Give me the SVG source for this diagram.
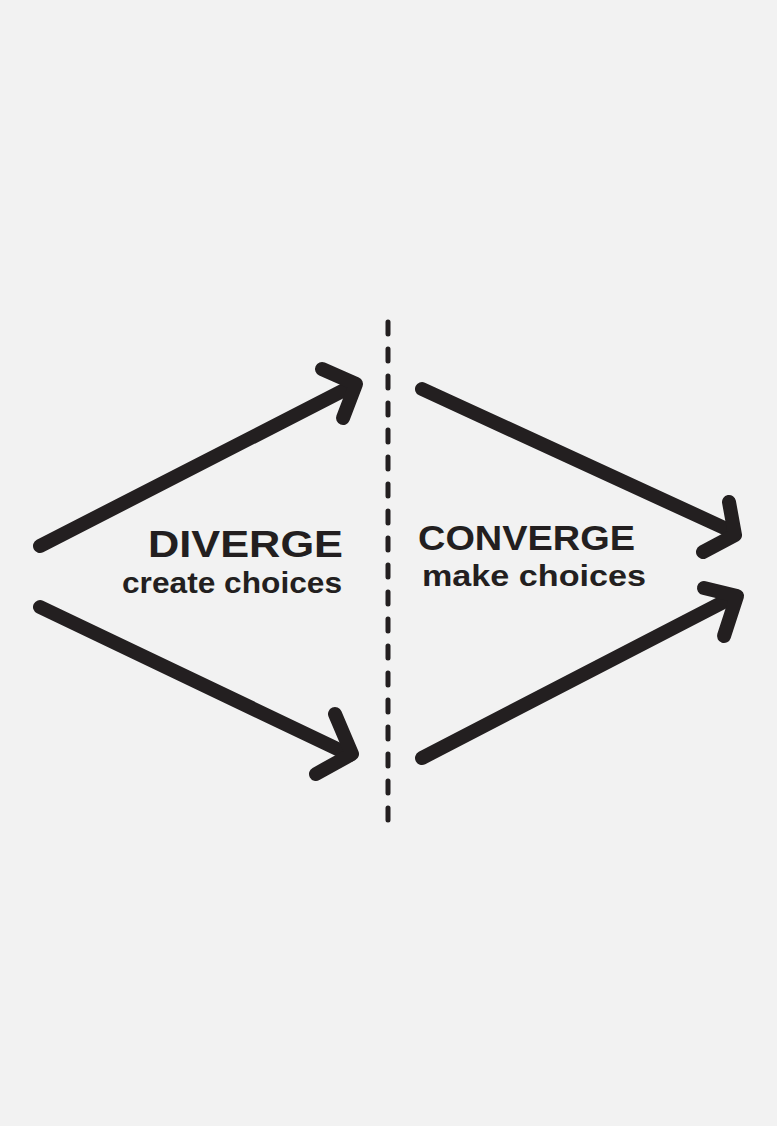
<svg xmlns="http://www.w3.org/2000/svg" width="777" height="1126" viewBox="0 0 777 1126">
<style>
.arr{fill:none;stroke:#231f20;stroke-width:14;stroke-linecap:round;stroke-linejoin:round}
.dash{fill:none;stroke:#231f20;stroke-width:5;stroke-linecap:round;stroke-dasharray:12 15}
.t{font-family:"Liberation Sans",Arial,sans-serif;font-weight:bold;fill:#231f20}
</style>
<rect width="777" height="1126" fill="#f2f2f2"/>
<g id="connectors">
<path class="dash" d="M388,322 L388,820"/>
<g id="arrow-diverge-up"><path class="arr" d="M40,546 L354,385"/><path class="arr" d="M322,369 L356,384 L343,418"/></g>
<g id="arrow-diverge-down"><path class="arr" d="M40,607 L350,755"/><path class="arr" d="M335,714 L352,754 L316,774"/></g>
<g id="arrow-converge-down"><path class="arr" d="M422,389 L733,532"/><path class="arr" d="M729,502 L735,535 L703,552"/></g>
<g id="arrow-converge-up"><path class="arr" d="M422,758 L735,596"/><path class="arr" d="M704,588 L737,596 L724,636"/></g>
</g>
<g id="diverge">
<text class="t" x="148" y="557" font-size="37" textLength="195" lengthAdjust="spacingAndGlyphs">DIVERGE</text>
<text class="t" x="122" y="593" font-size="29" textLength="220" lengthAdjust="spacingAndGlyphs">create choices</text>
</g>
<g id="converge">
<text class="t" x="418" y="550" font-size="35" textLength="217" lengthAdjust="spacingAndGlyphs">CONVERGE</text>
<text class="t" x="422" y="586" font-size="29" textLength="224" lengthAdjust="spacingAndGlyphs">make choices</text>
</g>
</svg>
